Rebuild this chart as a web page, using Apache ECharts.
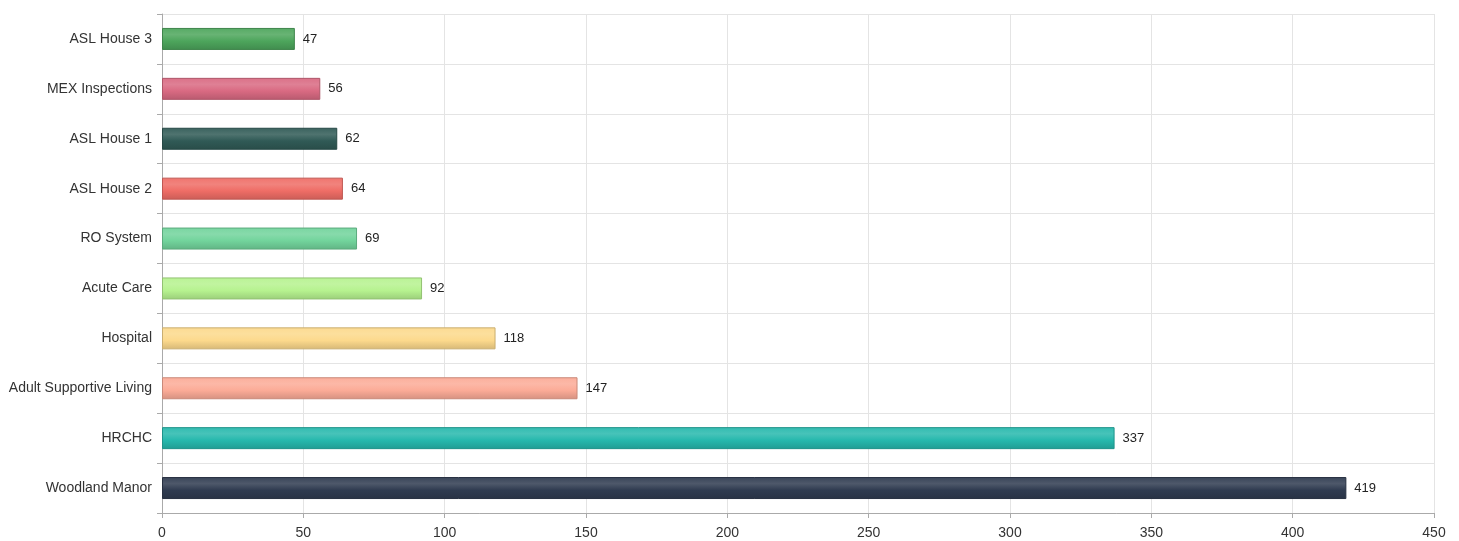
<!DOCTYPE html>
<html>
<head>
<meta charset="utf-8">
<script src="https://cdn.jsdelivr.net/npm/echarts@6/dist/echarts.min.js"></script>
<style>
  html, body { margin: 0; padding: 0; background: #fff; }
  #chart { width: 1459px; height: 541px; }
</style>
</head>
<body>
<div id="chart"></div>
<script>
// Facilities listed top to bottom
const categories = [
  'ASL House 3', 'MEX Inspections', 'ASL House 1', 'ASL House 2', 'RO System',
  'Acute Care', 'Hospital', 'Adult Supportive Living', 'HRCHC', 'Woodland Manor'
];
const values = [47, 56, 62, 64, 69, 92, 118, 147, 337, 419];
const barColors = [
  '#4da55c', '#d96a82', '#305a56', '#ef6d66', '#72d49c',
  '#b6f28f', '#fcd98c', '#fbab97', '#26b8ad', '#2f3b50'
];
const xTicks = [0, 50, 100, 150, 200, 250, 300, 350, 400, 450];

function shade(hex, amt) {
  const n = parseInt(hex.slice(1), 16);
  let r = n >> 16, g = (n >> 8) & 255, b = n & 255;
  const f = c => Math.max(0, Math.min(255, Math.round(amt >= 0 ? c + (255 - c) * amt : c * (1 + amt))));
  return 'rgb(' + f(r) + ',' + f(g) + ',' + f(b) + ')';
}

const font = 'Liberation Sans, Arial, sans-serif';
const chart = echarts.init(document.getElementById('chart'));
chart.setOption({
  animation: false,
  backgroundColor: '#fff',
  grid: { left: 162, right: 25, top: 14, bottom: 28, containLabel: false },
  xAxis: {
    type: 'value',
    min: xTicks[0],
    max: xTicks[xTicks.length - 1],
    interval: 50,
    axisLine: { show: true, lineStyle: { color: '#aaa' } },
    axisTick: { show: true, length: 5, lineStyle: { color: '#aaa' } },
    axisLabel: { color: '#333', fontFamily: font, fontSize: 14, margin: 13 },
    splitLine: { show: true, lineStyle: { color: '#e4e4e4' } }
  },
  yAxis: {
    type: 'category',
    inverse: true,
    data: categories,
    axisLine: { show: true, lineStyle: { color: '#aaa' } },
    axisTick: { show: true, length: 5, lineStyle: { color: '#aaa' } },
    axisLabel: { color: '#333', fontFamily: font, fontSize: 14, margin: 10 },
    splitLine: { show: true, lineStyle: { color: '#e4e4e4' } }
  },
  series: [{
    type: 'bar',
    barWidth: 22,
    data: values.map((v, i) => ({
      value: v,
      itemStyle: {
        color: {
          type: 'linear', x: 0, y: 0, x2: 0, y2: 1,
          colorStops: [
            { offset: 0, color: shade(barColors[i], 0.05) },
            { offset: 0.3, color: shade(barColors[i], 0.15) },
            { offset: 0.6, color: barColors[i] },
            { offset: 1, color: shade(barColors[i], -0.15) }
          ]
        },
        borderColor: shade(barColors[i], -0.2),
        borderWidth: 1
      }
    })),
    label: {
      show: true,
      position: 'right',
      distance: 8,
      color: '#222',
      fontFamily: font,
      fontSize: 13
    }
  }]
});
</script>
</body>
</html>
